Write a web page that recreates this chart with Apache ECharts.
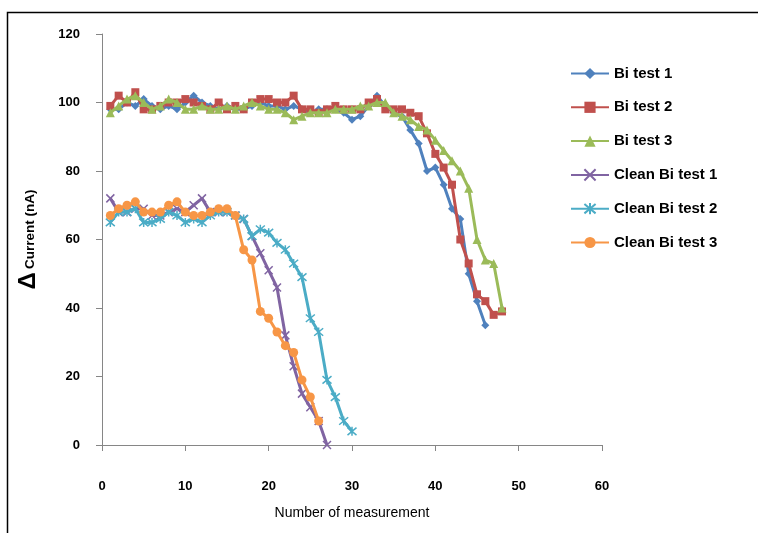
<!DOCTYPE html>
<html>
<head>
<meta charset="utf-8">
<script src="https://cdn.jsdelivr.net/npm/echarts@6/dist/echarts.min.js"></script>
<style>
  html, body { margin: 0; padding: 0; background: #fff; }
  #chart { width: 758px; height: 533px; }
</style>
</head>
<body>
<div id="chart"></div>
<script>
// measurement values, each series starts at measurement 1
const biTest1 = [98, 98, 100, 99, 101, 99, 98, 99, 98, 100, 102, 100, 99, 98, 99, 98, 98, 99, 100, 99,
  99, 98, 99, 98, 97, 98, 98, 98, 97, 95, 96, 99, 102, 99, 97, 96, 92, 88, 80, 81, 76, 69, 66, 50, 42, 35];
const biTest2 = [99, 102, 100, 103, 98, 98, 99, 100, 100, 101, 100, 99, 98, 100, 98, 99, 98, 100, 101, 101,
  100, 100, 102, 98, 98, 97, 98, 99, 98, 98, 98, 100, 101, 98, 98, 98, 97, 96, 91, 85, 81, 76, 60, 53, 44, 42, 38, 39];
const biTest3 = [97, 99, 101, 102, 100, 98, 99, 101, 100, 98, 98, 99, 98, 98, 99, 98, 99, 100, 99, 98,
  98, 97, 95, 96, 97, 97, 97, 98, 98, 98, 99, 99, 100, 100, 97, 96, 95, 93, 92, 89, 86, 83, 80, 75, 60, 54, 53, 40];
const cleanTest1 = [72, 68, 68, 69, 69, 67, 67, 68, 69, 68, 70, 72, 68, 68, 68, 67, 66, 61, 56, 51,
  46, 32, 23, 15, 11, 7, 0];
const cleanTest2 = [65, 68, 68, 69, 65, 65, 66, 68, 67, 65, 66, 65, 67, 68, 68, 67, 66, 61, 63, 62,
  59, 57, 53, 49, 37, 33, 19, 14, 7, 4];
const cleanTest3 = [67, 69, 70, 71, 68, 68, 68, 70, 71, 68, 67, 67, 68, 69, 69, 67, 57, 54, 39, 37,
  33, 29, 27, 19, 14, 7];

const seriesNames = ['Bi test 1', 'Bi test 2', 'Bi test 3', 'Clean Bi test 1', 'Clean Bi test 2', 'Clean Bi test 3'];
const seriesData = [biTest1, biTest2, biTest3, cleanTest1, cleanTest2, cleanTest3];
const colors = ['#4F81BD', '#C0504D', '#9BBB59', '#8064A2', '#4BACC6', '#F79646'];
const symbols = ['diamond', 'rect', 'triangle', 'path://M0,0L10,10M10,0L0,10', 'path://M0,0L10,10M10,0L0,10M5,-1L5,11', 'circle'];
const symbolSizes = [8, 8, 9, 8, 9, 9];

const xTicks = { min: 0, max: 60, interval: 10 };
const yTicks = { min: 0, max: 120, interval: 20 };

var myChart = echarts.init(document.getElementById('chart'));

const series = seriesData.map((vals, i) => ({
  name: seriesNames[i],
  type: 'line',
  data: vals.map((v, k) => [k + 1, v]),
  symbol: symbols[i],
  symbolSize: symbolSizes[i],
  showAllSymbol: true,
  lineStyle: { width: 3, color: colors[i] },
  itemStyle: i === 3 || i === 4
    ? { color: colors[i], borderColor: colors[i], borderWidth: 1.5 }
    : { color: colors[i] },
  emphasis: { disabled: true },
  z: 2 + i
}));

const option = {
  animation: false,
  color: colors,
  grid: { left: 102, right: 156, top: 34, bottom: 88 },
  graphic: [{
    type: 'rect',
    shape: { x: 7.5, y: 12.5, width: 800, height: 600 },
    style: { fill: 'none', stroke: '#000', lineWidth: 1.5 },
    silent: true
  }],
  legend: {
    orient: 'vertical',
    left: 565,
    top: 61,
    itemWidth: 38,
    itemHeight: 14,
    itemGap: 18.8,
    textStyle: { fontFamily: 'Liberation Sans, Arial', fontWeight: 'bold', fontSize: 15, color: '#000' },
    data: seriesNames
  },
  xAxis: {
    type: 'value',
    min: xTicks.min, max: xTicks.max, interval: xTicks.interval,
    name: 'Number of measurement',
    nameLocation: 'middle',
    nameGap: 61,
    nameTextStyle: { fontFamily: 'Liberation Sans, Arial', fontSize: 14, color: '#000' },
    axisLine: { lineStyle: { color: '#868686', width: 1 } },
    axisTick: { show: true, inside: false, length: 6, lineStyle: { color: '#868686' } },
    axisLabel: { margin: 35, fontFamily: 'Liberation Sans, Arial', fontWeight: 'bold', fontSize: 13, color: '#000' },
    splitLine: { show: false }
  },
  yAxis: {
    type: 'value',
    min: yTicks.min, max: yTicks.max, interval: yTicks.interval,
    name: '{d|Δ} {c|Current (nA)}',
    nameLocation: 'middle',
    nameGap: 62,
    nameRotate: 90,
    nameTextStyle: {
      color: '#000',
      rich: {
        d: { fontFamily: 'Liberation Sans, Arial', fontSize: 24, fontWeight: 'bold', color: '#000' },
        c: { fontFamily: 'Liberation Sans, Arial', fontSize: 13.5, fontWeight: 'bold', color: '#000', padding: [4, 0, 0, 0] }
      }
    },
    axisLine: { show: true, lineStyle: { color: '#868686', width: 1 } },
    axisTick: { show: true, inside: false, length: 6, lineStyle: { color: '#868686' } },
    axisLabel: { margin: 22, fontFamily: 'Liberation Sans, Arial', fontWeight: 'bold', fontSize: 13, color: '#000' },
    splitLine: { show: false }
  },
  series: series
};

myChart.setOption(option);
</script>
</body>
</html>
